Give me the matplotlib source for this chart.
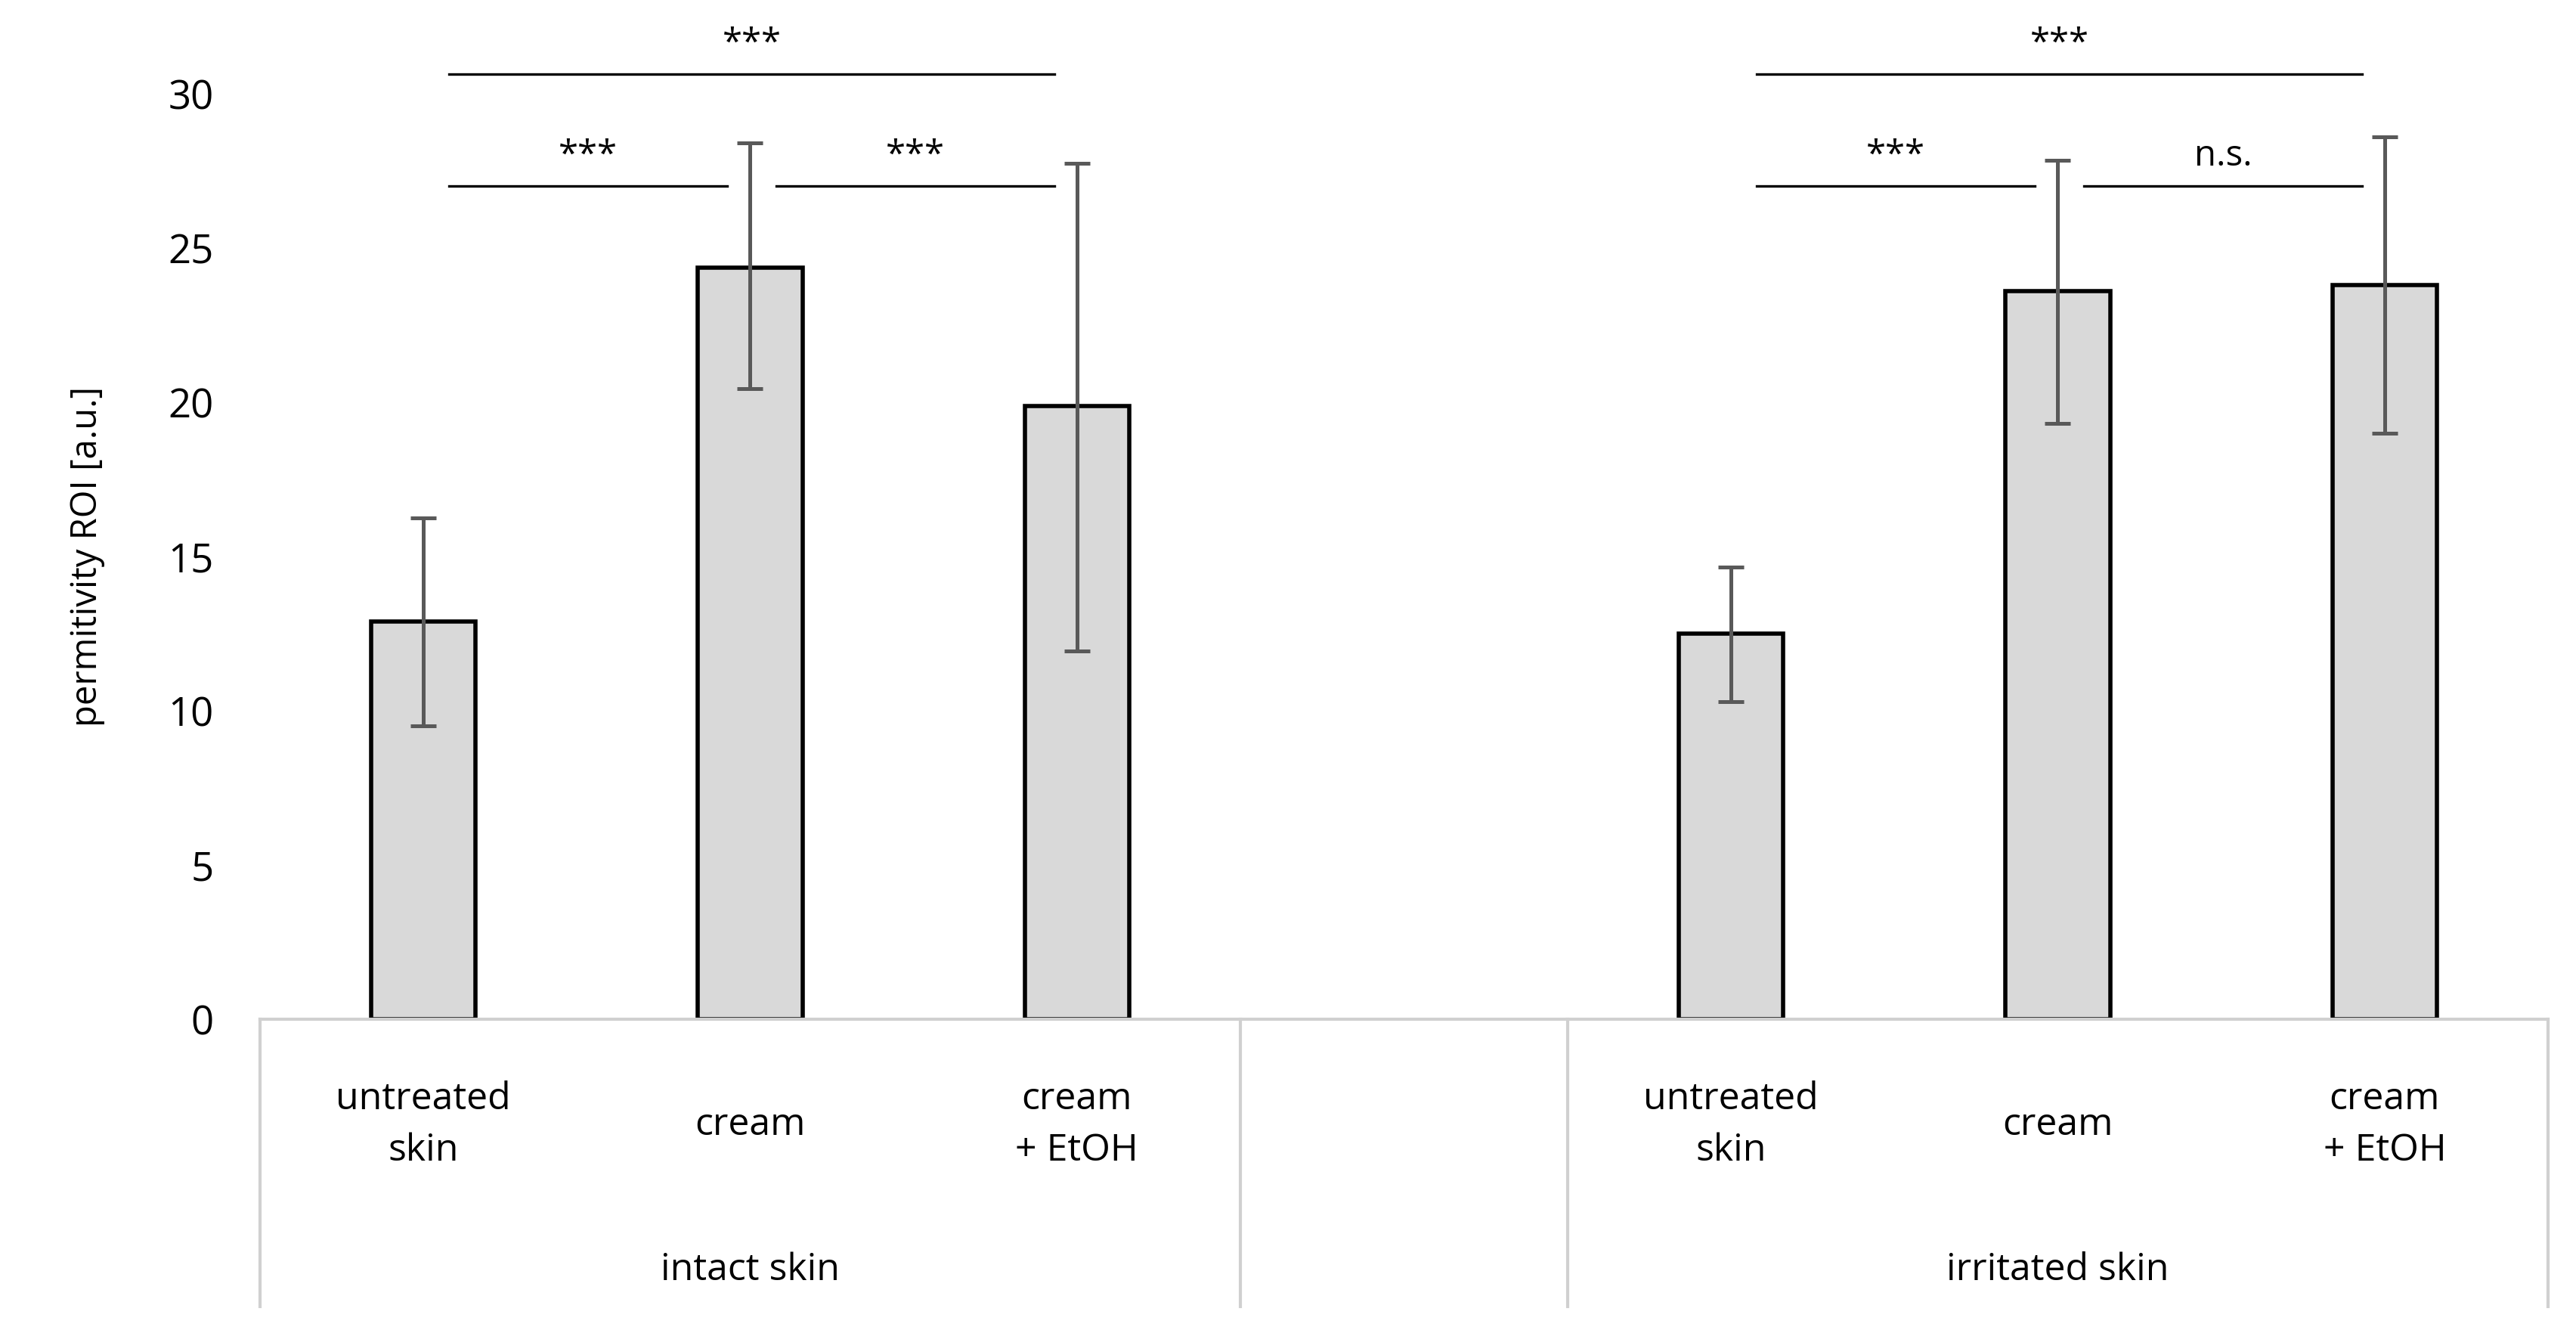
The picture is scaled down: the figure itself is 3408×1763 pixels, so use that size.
import matplotlib.pyplot as plt
from matplotlib.transforms import blended_transform_factory

plt.rcParams['font.family'] = ['Open Sans', 'DejaVu Sans']

labels = ["untreated\nskin", "cream", "cream\n+ EtOH"]
groups = ["intact skin", "irritated skin"]
intact_mean = [12.9, 24.35, 19.87]
intact_err_hi = [16.25, 28.4, 27.75]
intact_err_lo = [9.5, 20.45, 11.93]
irr_mean = [12.5, 23.6, 23.8]
irr_err_hi = [14.65, 27.85, 28.6]
irr_err_lo = [10.3, 19.3, 19.0]

# significance: (left slot, right slot, level, label)
sig = [(0, 2, 30.63, "***"), (0, 1, 27.0, "***"), (1, 2, 27.0, "***"),
       (4, 6, 30.63, "***"), (4, 5, 27.0, "***"), (5, 6, 27.0, "n.s.")]

fig = plt.figure(figsize=(17.04, 8.815), dpi=200)
ax = fig.add_axes([0.1008, 0.2355, 0.8884, 0.6942])

pos = [0, 1, 2, 4, 5, 6]
means = intact_mean + irr_mean
hi = intact_err_hi + irr_err_hi
lo = intact_err_lo + irr_err_lo
yerr = [[m - l for m, l in zip(means, lo)], [h - m for m, h in zip(means, hi)]]
ax.bar(pos, means, width=0.32, color="#d9d9d9", edgecolor="black", linewidth=2, zorder=2)
ax.errorbar(pos, means, yerr=yerr, fmt="none", ecolor="#595959", elinewidth=1.8,
            capsize=6, capthick=1.8, zorder=3)

ax.set_xlim(-0.5, 6.5)
ax.set_ylim(0, 30)
ax.set_yticks(range(0, 31, 5))
ax.tick_params(axis="y", length=0, labelsize=19, pad=22)
ax.set_xticks([])
for s in ["top", "right", "left"]:
    ax.spines[s].set_visible(False)
ax.spines["bottom"].set_color("#d0d0d0")
ax.spines["bottom"].set_linewidth(1.5)
ax.set_ylabel("permitivity ROI [a.u.]", fontsize=17, labelpad=30)

tr = blended_transform_factory(ax.transData, ax.transAxes)
for x in [-0.5, 2.5, 3.5, 6.5]:
    ax.plot([x, x], [0, -0.311], transform=tr, color="#d0d0d0", lw=1.5, clip_on=False)
for p, lab in zip(pos, labels + labels):
    ax.text(p, -0.115, lab, transform=tr, ha="center", va="center", fontsize=18, linespacing=1.5)
for c, g in zip([1, 5], groups):
    ax.text(c, -0.272, g, transform=tr, ha="center", va="center", fontsize=18)

for a, b, y, t in sig:
    x0 = a + 0.08 if b - a == 2 or a in (0, 4) else a + 0.08
    x0 = a + 0.08 if a in (0, 4) else a + 0.08
    x1 = b - 0.07
    if b - a == 1 and a in (0, 4):
        x1 = b - 0.07
    elif b - a == 1:
        x0 = a + 0.08
    ax.plot([x0, x1], [y, y], color="black", lw=1.2, clip_on=False)
    ax.text((x0 + x1) / 2, y + 0.4, t, ha="center", va="bottom", fontsize=17, clip_on=False)

fig.savefig("out.png", dpi=200)
